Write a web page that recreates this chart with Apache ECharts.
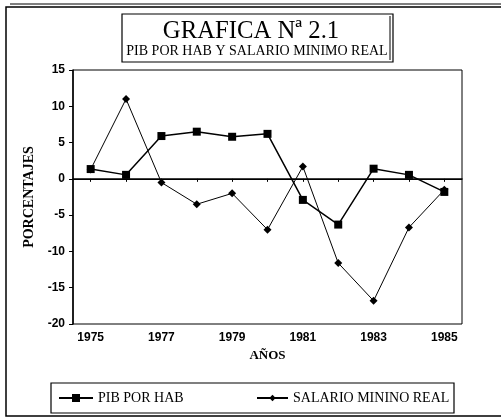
<!DOCTYPE html>
<html>
<head>
<meta charset="utf-8">
<script src="https://cdn.jsdelivr.net/npm/echarts@6/dist/echarts.min.js"></script>
<style>html,body{margin:0;padding:0;background:#fff;}#c{width:501px;height:418px;}</style>
</head>
<body>
<div id="c"></div>
<script>
const years = ['1975','1976','1977','1978','1979','1980','1981','1982','1983','1984','1985'];
const pibPorHab = [1.35, 0.55, 5.9, 6.5, 5.8, 6.2, -2.9, -6.3, 1.4, 0.55, -1.8];
const salarioMinimo = [1.3, 11.0, -0.5, -3.5, -2.0, -7.0, 1.7, -11.6, -16.8, -6.7, -1.5];
const yTicks = {min: -20, max: 15, interval: 5};
const titleText = 'GRAFICA Nª 2.1';
const subtitleText = 'PIB POR HAB Y SALARIO MINIMO REAL';
const seriesNames = ['PIB POR HAB', 'SALARIO MININO REAL'];

const chart = echarts.init(document.getElementById('c'), null, {renderer: 'canvas'});
const tickFont = {fontFamily: 'Liberation Sans', fontWeight: 'bold', fontSize: 12, color: '#000'};
const serif = 'Liberation Serif';

chart.setOption({
  backgroundColor: '#fff',
  animation: false,
  grid: {left: 73, right: 39, top: 70, bottom: 94, show: true, borderColor: '#000', borderWidth: 1},
  xAxis: {
    type: 'category',
    data: years,
    boundaryGap: true,
    name: 'AÑOS',
    nameLocation: 'middle',
    nameGap: 21,
    nameTextStyle: {fontFamily: serif, fontWeight: 'bold', fontSize: 13, color: '#000'},
    axisLine: {lineStyle: {color: '#000', width: 1.5}},
    axisTick: {show: true, alignWithLabel: true, interval: 0, length: 3, lineStyle: {color: '#000'}},
    axisLabel: Object.assign({interval: 1, margin: 8}, tickFont),
    splitLine: {show: false}
  },
  yAxis: {
    type: 'value',
    min: yTicks.min, max: yTicks.max, interval: yTicks.interval,
    name: 'PORCENTAJES',
    nameLocation: 'middle',
    nameGap: 34,
    nameRotate: 90,
    nameTextStyle: {fontFamily: serif, fontWeight: 'bold', fontSize: 14, color: '#000'},
    axisLine: {show: true, lineStyle: {color: '#000', width: 1.5}},
    axisTick: {show: true, length: 4, lineStyle: {color: '#000'}},
    axisLabel: Object.assign({margin: 8}, tickFont),
    splitLine: {show: false}
  },
  legend: [
    {data: [seriesNames[0]], left: 58, top: 391, padding: 0, itemWidth: 34, itemHeight: 10, itemGap: 5,
     textStyle: {fontFamily: serif, fontSize: 14, color: '#000'}},
    {data: [seriesNames[1]], left: 256, top: 391, padding: 0, itemWidth: 31, itemHeight: 8, itemGap: 5,
     textStyle: {fontFamily: serif, fontSize: 14, color: '#000'}}
  ],
  series: [
    {
      name: seriesNames[0], type: 'line', data: pibPorHab,
      symbol: 'rect', symbolSize: 8,
      lineStyle: {color: '#000', width: 1.5},
      itemStyle: {color: '#000'},
      markLine: {silent: true, symbol: 'none', label: {show: false},
        lineStyle: {color: '#000', width: 1, type: 'solid'}, data: [{yAxis: 0}]}
    },
    {
      name: seriesNames[1], type: 'line', data: salarioMinimo,
      symbol: 'diamond', symbolSize: 8,
      lineStyle: {color: '#000', width: 1},
      itemStyle: {color: '#000'}
    }
  ],
  graphic: [
    {type: 'rect', shape: {x: 6, y: 7, width: 520, height: 409}, style: {fill: 'none', stroke: '#000', lineWidth: 1.5}, silent: true},
    {type: 'line', shape: {x1: 10, y1: 4, x2: 501, y2: 4}, style: {stroke: '#000', lineWidth: 1}, silent: true},
    {type: 'rect', shape: {x: 122, y: 14, width: 271, height: 48}, style: {fill: 'none', stroke: '#000', lineWidth: 1.2}, silent: true},
    {type: 'line', shape: {x1: 390, y1: 16, x2: 390, y2: 60}, style: {stroke: '#000', lineWidth: 1}, silent: true},
    {type: 'text', x: 251, y: 31, scaleX: 0.95, silent: true,
     style: {text: titleText, font: '26px "Liberation Serif"', fill: '#000', textAlign: 'center', textVerticalAlign: 'middle'}},
    {type: 'text', x: 257, y: 51, silent: true,
     style: {text: subtitleText, font: '14px "Liberation Serif"', fill: '#000', textAlign: 'center', textVerticalAlign: 'middle'}},
    {type: 'rect', shape: {x: 51, y: 383, width: 403, height: 30}, style: {fill: 'none', stroke: '#000', lineWidth: 1.2}, silent: true}
  ]
});
</script>
</body>
</html>
